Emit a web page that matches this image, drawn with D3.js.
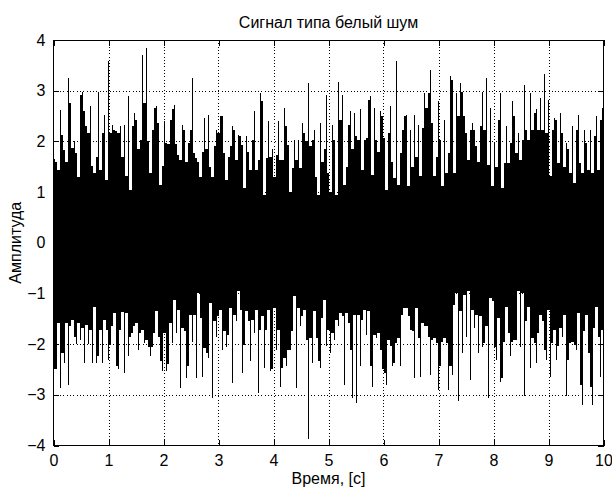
<!DOCTYPE html>
<html>
<head>
<meta charset="utf-8">
<script src="https://cdn.jsdelivr.net/npm/d3@7"></script>
<style>
  html, body { margin: 0; padding: 0; background: #fff; }
  svg { display: block; font-family: "Liberation Sans", Arial, sans-serif; }
</style>
</head>
<body>
<svg id="chart" width="612" height="494"></svg>
<script>
// ---- data ----
const titleText = "Сигнал типа белый шум";
const xLabelText = "Время, [с]";
const yLabelText = "Амплитуда";
const xTicks = [0, 1, 2, 3, 4, 5, 6, 7, 8, 9, 10];
const yTicks = [-4, -3, -2, -1, 0, 1, 2, 3, 4];
const xDomain = [0, 10];
const yDomain = [-4, 4];
const samplePeriod = 10 / 275; // one envelope column of the noise record

// upper envelope (column maxima) of the white-noise signal
const upperPeaks = [
  1.65, 1.6, 1.44, 2.62, 2.13, 1.83, 1.6, 3.25, 2.75, 1.87,
  2.0, 1.77, 1.3, 2.92, 2.98, 2.6, 2.3, 2.17, 2.69, 1.51,
  1.38, 1.7, 2.98, 1.44, 2.17, 2.53, 1.24, 3.58, 2.17, 2.33,
  2.23, 2.2, 2.17, 2.3, 1.7, 2.33, 1.31, 2.89, 1.05, 2.3,
  2.56, 2.43, 1.84, 2.03, 3.71, 2.75, 3.84, 2.0, 1.37, 2.23,
  2.66, 2.69, 2.36,
  1.14, 1.51, 2.4, 1.97, 1.94, 2.43, 2.63, 2.72, 1.94, 1.74,
  1.64, 2.33, 2.23, 1.6, 1.97, 2.23, 3.25, 1.77, 1.67, 1.6,
  1.3, 1.8, 2.46, 1.84, 2.53, 1.5, 1.3, 1.9, 2.23, 2.17,
  2.5, 2.5, 1.77, 1.24, 1.7, 1.9, 2.3, 2.23, 1.64, 2.13,
  2.1, 1.93, 1.08, 2.1, 1.8, 1.44, 2.03, 2.6, 1.44, 1.64,
  2.95, 2.8, 0.95, 1.67, 2.4, 1.7, 1.84, 1.3, 1.74, 2.4,
  1.64, 1.64, 2.66, 2.3, 1.93, 1.0, 1.47, 2.03, 1.64, 2.03,
  1.47, 2.36, 2.17, 2.0, 3.15,
  1.9, 2.03, 2.23, 1.3, 0.95, 2.36, 1.6, 1.84, 2.92, 1.37,
  1.0, 2.33, 2.03, 0.95, 3.18, 2.43, 2.92, 1.14, 1.5, 2.33,
  2.6, 1.84, 2.56, 2.1, 2.03, 2.63, 1.44, 2.03, 2.07, 2.82,
  2.89, 1.34, 2.66, 2.03, 1.8, 2.6, 2.5, 2.07, 1.05, 2.17,
  2.69, 1.6, 1.28, 3.58, 1.14, 1.77, 2.23, 2.5, 2.53, 1.11,
  2.23, 1.5, 2.53, 1.7, 2.33, 1.31, 2.26, 2.95, 2.66, 2.95,
  3.41, 2.36, 1.31, 1.7, 2.79, 2.03, 1.11, 2.43, 1.37, 1.77,
  3.28, 3.22, 1.37, 2.95, 2.5,
  3.15, 2.98, 2.5, 2.17, 1.64, 2.23, 2.36, 2.23, 1.9, 1.6,
  2.3, 2.98, 2.23, 3.25, 1.54, 2.66, 1.11, 1.97, 1.5, 2.43,
  2.95, 1.08, 1.57, 2.3, 1.57, 1.97, 2.79, 2.5, 1.77, 2.17,
  1.64, 2.03, 3.12, 2.23, 2.03, 2.95, 2.23, 2.56, 2.63, 2.23,
  2.86, 2.23, 3.32, 2.17, 2.82, 1.31, 2.23, 2.46, 2.43, 1.57,
  2.56, 2.17, 1.5, 1.97, 1.84, 1.37, 2.3, 1.18, 2.23, 2.53,
  1.57, 1.37, 2.23, 1.97, 1.44, 2.23, 1.37, 2.1, 2.5, 1.44,
  2.43, 2.66
];

// lower envelope (column minima) of the white-noise signal
const lowerPeaks = [
  -2.5, -2.5, -1.59, -2.87, -2.18, -2.38, -1.59, -2.8, -1.65, -1.52,
  -1.85, -2.0, -1.59, -1.91, -1.68, -2.38, -1.62, -2.0, -1.72, -2.38,
  -1.26, -2.38, -2.24, -1.72, -2.38, -1.52, -1.72, -2.31, -2.0, -1.65,
  -1.39, -2.44, -2.5, -1.72, -1.36, -2.57, -1.39, -2.24, -1.85, -1.78,
  -1.65, -1.59, -2.11, -1.78, -1.72, -1.98, -1.91, -2.05, -2.24, -2.05,
  -1.78, -1.35, -1.85,
  -2.34, -2.54, -1.78, -2.54, -2.4, -1.58, -1.98, -1.12, -1.78, -1.32,
  -2.87, -1.68, -1.75, -2.67, -2.44, -1.42, -1.95, -1.42, -2.67, -0.99,
  -1.49, -2.64, -2.08, -2.18, -2.27, -1.19, -3.07, -1.55, -1.85, -1.45,
  -1.32, -2.11, -1.75, -2.05, -1.82, -1.29, -2.77, -1.42, -1.55, -0.95,
  -1.32, -2.57, -2.01, -1.35, -1.55, -2.34, -1.52, -1.78, -1.32, -2.97,
  -1.72, -1.45, -2.47, -1.72, -1.32, -2.54, -2.5, -1.29, -2.11, -1.72,
  -2.84, -2.47, -2.28, -2.44, -2.11, -2.11, -1.75, -1.06, -2.86, -1.29,
  -1.65, -1.45, -1.32, -1.91, -3.88,
  -1.88, -2.38, -1.35, -1.88, -2.34, -2.47, -1.49, -1.12, -2.04, -1.72,
  -2.18, -1.78, -1.91, -1.52, -1.65, -1.39, -1.45, -2.8, -1.39, -1.59,
  -2.11, -3.07, -1.42, -3.16, -1.42, -2.44, -1.52, -1.32, -1.82, -1.35,
  -2.44, -2.84, -1.82, -1.88, -1.78, -2.11, -2.5, -2.57, -2.8, -1.91,
  -2.04, -2.44, -2.38, -1.98, -1.88, -2.44, -1.42, -1.29, -1.29, -1.45,
  -1.72, -1.75, -2.67, -1.29, -1.88, -2.64, -1.58, -1.65, -1.65, -1.85,
  -2.6, -1.91, -1.88, -1.98, -2.9, -2.44, -1.95, -1.88, -1.98, -2.9,
  -2.44, -2.6, -1.22, -0.99, -3.13,
  -1.35, -2.18, -1.03, -1.85, -0.95, -2.7, -1.32, -1.68, -1.42, -2.18,
  -1.45, -2.05, -1.98, -1.65, -3.07, -1.09, -1.15, -2.05, -2.31, -1.49,
  -2.74, -2.67, -1.95, -1.26, -1.78, -2.24, -1.95, -1.91, -1.91, -0.95,
  -2.05, -0.99, -3.03, -1.55, -1.26, -2.47, -1.88, -1.98, -2.38, -1.78,
  -1.42, -1.55, -2.11, -2.31, -1.32, -2.64, -1.98, -1.72, -2.31, -2.04,
  -1.68, -1.85, -1.42, -3.03, -2.31, -1.98, -1.95, -2.01, -2.11, -1.39,
  -2.8, -3.2, -1.75, -1.42, -2.18, -2.84, -3.2, -1.68, -1.26, -1.85,
  -2.64, -1.72
];

// ---- layout ----
const svg = d3.select("#chart");
const plotLeft = 53.5, plotRight = 603.5, plotTop = 40, plotBottom = 445.5;

const x = d3.scaleLinear().domain(xDomain).range([plotLeft, plotRight]);
const y = d3.scaleLinear().domain(yDomain).range([plotBottom, plotTop]);

// grid (dotted)
const grid = svg.append("g").attr("stroke", "#000").attr("stroke-width", 1)
  .attr("stroke-dasharray", "1,2.3").attr("shape-rendering", "crispEdges");
grid.selectAll("line.vx").data(xTicks.slice(1, -1)).join("line")
  .attr("class", "vx")
  .attr("x1", d => Math.round(x(d)) + 0.5).attr("x2", d => Math.round(x(d)) + 0.5)
  .attr("y1", plotTop).attr("y2", plotBottom);
grid.selectAll("line.hy").data(yTicks.slice(1, -1)).join("line")
  .attr("class", "hy")
  .attr("y1", d => Math.round(y(d)) + 0.5).attr("y2", d => Math.round(y(d)) + 0.5)
  .attr("x1", plotLeft).attr("x2", plotRight);

// signal: each envelope column is a thin vertical trace; neighbouring
// columns are joined by the range the line passes through between them.
const cols = upperPeaks.map((hi, i) => ({ t: (i + 0.5) * samplePeriod, hi: hi, lo: lowerPeaks[i] }));
const joins = d3.pairs(cols).map(([a, b]) => ({
  t0: a.t, t1: b.t,
  hi: Math.min(a.hi, b.hi), lo: Math.max(a.lo, b.lo)
}));
const sig = svg.append("g").attr("shape-rendering", "crispEdges");
sig.selectAll("rect.join").data(joins).join("rect")
  .attr("class", "join")
  .attr("x", d => x(d.t0))
  .attr("width", d => x(d.t1) - x(d.t0))
  .attr("y", d => y(d.hi))
  .attr("height", d => y(d.lo) - y(d.hi))
  .attr("fill", "#000");
sig.selectAll("line.col").data(cols).join("line")
  .attr("class", "col")
  .attr("x1", d => x(d.t)).attr("x2", d => x(d.t))
  .attr("y1", d => y(d.hi)).attr("y2", d => y(d.lo))
  .attr("stroke", "#000").attr("stroke-width", 1);

// axes
const tickLen = 5.5;
const fmt = d3.format("d");
const axB = svg.append("g").attr("transform", `translate(0,${plotBottom})`)
  .call(d3.axisBottom(x).tickValues(xTicks).tickFormat(fmt).tickSizeInner(-tickLen).tickSizeOuter(0).tickPadding(9));
const axT = svg.append("g").attr("transform", `translate(0,${plotTop})`)
  .call(d3.axisTop(x).tickValues(xTicks).tickFormat("").tickSizeInner(-tickLen).tickSizeOuter(0));
const axL = svg.append("g").attr("transform", `translate(${plotLeft},0)`)
  .call(d3.axisLeft(y).tickValues(yTicks).tickFormat(fmt).tickSizeInner(-tickLen).tickSizeOuter(0).tickPadding(8));
const axR = svg.append("g").attr("transform", `translate(${plotRight},0)`)
  .call(d3.axisRight(y).tickValues(yTicks).tickFormat("").tickSizeInner(-tickLen).tickSizeOuter(0));

[axB, axT, axL, axR].forEach(a => {
  a.select(".domain").remove();
  a.selectAll("line").attr("stroke", "#000").attr("shape-rendering", "crispEdges");
  a.selectAll("text").attr("fill", "#000").attr("font-size", 16)
    .attr("font-family", '"Liberation Sans", Arial, sans-serif');
});

// box
svg.append("rect")
  .attr("x", plotLeft).attr("y", plotTop)
  .attr("width", plotRight - plotLeft).attr("height", plotBottom - plotTop)
  .attr("fill", "none").attr("stroke", "#000").attr("stroke-width", 1)
  .attr("shape-rendering", "crispEdges");

// title & labels
svg.append("text").attr("x", (plotLeft + plotRight) / 2).attr("y", 28)
  .attr("text-anchor", "middle").attr("font-size", 16).attr("fill", "#000")
  .text(titleText);
svg.append("text").attr("x", (plotLeft + plotRight) / 2).attr("y", 484)
  .attr("text-anchor", "middle").attr("font-size", 16).attr("fill", "#000")
  .text(xLabelText);
svg.append("text")
  .attr("transform", `translate(21,${(plotTop + plotBottom) / 2}) rotate(-90)`)
  .attr("text-anchor", "middle").attr("font-size", 16).attr("fill", "#000")
  .text(yLabelText);
</script>
</body>
</html>
